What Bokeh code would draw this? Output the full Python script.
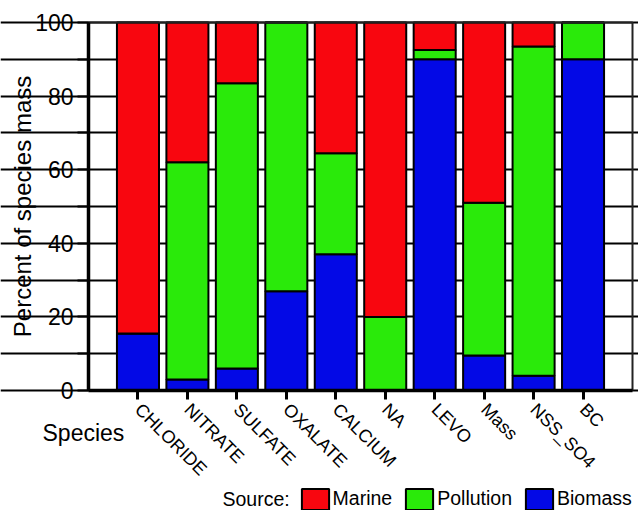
import math
from bokeh.plotting import figure
from bokeh.models import Range1d, FixedTicker, Label, Legend, LegendItem, ColumnDataSource
from bokeh.embed import file_html
from bokeh.resources import INLINE

species = ["CHLORIDE", "NITRATE", "SULFATE", "OXALATE", "CALCIUM",
           "NA", "LEVO", "Mass", "NSS_SO4", "BC"]
biomass = [15.5, 3.0, 6.0, 27.0, 37.0, 0.0, 90.0, 9.5, 4.0, 90.0]
pollution = [0.0, 59.0, 77.5, 73.0, 27.5, 20.0, 2.5, 41.5, 89.5, 10.0]
marine = [84.5, 38.0, 16.5, 0.0, 35.5, 80.0, 7.5, 49.0, 6.5, 0.0]
y_major = [0, 20, 40, 60, 80, 100]
y_minor = [10, 30, 50, 70, 90]
y_grid = [0, 10, 20, 30, 40, 50, 60, 70, 80, 90, 100]

RED = "#F8060F"
GREEN = "#2AEA0A"
BLUE = "#0309E6"
FONT = "Liberation Sans"

W, H = 638, 510
# plot box in canvas pixels
BOX_L, BOX_R, BOX_T, BOX_B = 88, 632, 22, 390
X_MAX = len(species) + 1
Y_MAX = 100

positions = list(range(1, len(species) + 1))

xs = (BOX_R - BOX_L) / X_MAX
ys = (BOX_B - BOX_T) / Y_MAX
x_range = Range1d(-BOX_L / xs, X_MAX + (W - BOX_R) / xs)
y_range = Range1d(-(H - BOX_B) / ys, Y_MAX + BOX_T / ys)

p = figure(width=W, height=H, output_backend="svg", toolbar_location=None,
           x_range=x_range, y_range=y_range, min_border=0)
p.title.visible = False
p.outline_line_color = None

src = ColumnDataSource(dict(x=positions, Biomass=biomass, Pollution=pollution, Marine=marine))

# grid
p.xgrid.visible = False
p.ygrid.ticker = FixedTicker(ticks=y_grid)
p.ygrid.bounds = (0, X_MAX)
p.ygrid.grid_line_color = "black"
p.ygrid.grid_line_width = 2
p.ygrid.grid_line_alpha = 1.0

rs = p.vbar_stack(["Biomass", "Pollution", "Marine"], x="x", width=0.85,
                  fill_color=[BLUE, GREEN, RED], line_color="black", line_width=2,
                  source=src)

# top / right border of the plot box
p.line(x=[0, X_MAX, X_MAX], y=[Y_MAX, Y_MAX, 0], line_color="#222222", line_width=2)

# y axis
ya = p.yaxis[0]
ya.fixed_location = 0
ya.bounds = (0, Y_MAX)
ya.ticker = FixedTicker(ticks=y_major, minor_ticks=y_minor)
ya.axis_line_width = 3.5
ya.axis_line_color = "black"
ya.major_tick_in = 0
ya.major_tick_out = 11
ya.minor_tick_in = 0
ya.minor_tick_out = 11
ya.major_tick_line_width = 2
ya.minor_tick_line_width = 2
ya.major_tick_line_color = "black"
ya.minor_tick_line_color = "black"
ya.major_label_text_font = FONT
ya.major_label_text_font_size = "23px"
ya.major_label_text_color = "black"
ya.major_label_standoff = 4
ya.axis_label = "Percent of species mass"
ya.axis_label_text_font = FONT
ya.axis_label_text_font_size = "24px"
ya.axis_label_text_font_style = "normal"
ya.axis_label_text_color = "black"
ya.axis_label_standoff = -4

# x axis
xa = p.xaxis[0]
xa.fixed_location = 0
xa.bounds = (0, X_MAX)
xa.ticker = FixedTicker(ticks=positions, minor_ticks=[])
xa.major_label_overrides = {pos: name for pos, name in zip(positions, species)}
xa.major_label_orientation = -math.pi / 4
xa.axis_line_width = 3.5
xa.axis_line_color = "black"
xa.major_tick_in = 0
xa.major_tick_out = 9
xa.minor_tick_out = 0
xa.minor_tick_in = 0
xa.major_tick_line_width = 3
xa.major_tick_line_color = "black"
xa.major_label_text_font = FONT
xa.major_label_text_font_size = "18px"
xa.major_label_text_color = "black"
xa.major_label_standoff = 7

# "Species" label (screen units measured from bottom-left of the canvas)
p.add_layout(Label(x=42, y=H - 432.5, x_units="screen", y_units="screen", text="Species",
                   text_font=FONT, text_font_size="23px", text_color="black",
                   text_align="left", text_baseline="middle"))

# legend
p.add_layout(Label(x=222, y=H - 498.5, x_units="screen", y_units="screen", text="Source:",
                   text_font=FONT, text_font_size="19.5px", text_color="black",
                   text_align="left", text_baseline="middle"))

legend = Legend(items=[LegendItem(label="Marine", renderers=[rs[2]]),
                       LegendItem(label="Pollution", renderers=[rs[1]]),
                       LegendItem(label="Biomass", renderers=[rs[0]])],
                orientation="horizontal", location=(297.6, -1.5),
                padding=0, margin=0, spacing=10, label_standoff=1,
                glyph_width=34, glyph_height=26, label_height=26,
                border_line_color=None, background_fill_alpha=0,
                label_text_font=FONT, label_text_font_size="19.5px",
                label_text_color="black")
p.add_layout(legend)

open("out.html", "w").write(file_html(p, INLINE))
